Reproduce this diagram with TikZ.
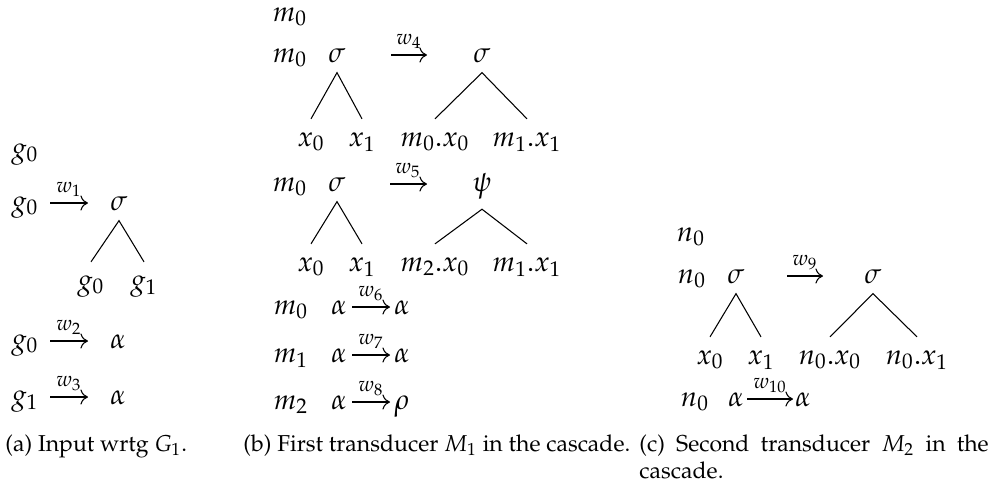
\documentclass[tikz,border=0pt]{standalone}
\usepackage[T1]{fontenc}
\usepackage{mathpazo}
\usetikzlibrary{arrows.meta}
\begin{document}
\begin{tikzpicture}[x=0.4237pt,y=-0.4237pt,
  every node/.style={inner sep=0pt,anchor=base,font=\fontsize{12}{14}\selectfont},
  rootnode/.style={inner ysep=4.2pt},
  leafnode/.style={inner ysep=5.5pt},
  treeline/.style={line width=0.45pt},
  arr/.style={line width=0.45pt,-{To[length=3.2pt,width=6.4pt]}},
  wlab/.style={yshift=-1pt},
  captxt/.style={font=\fontsize{9.75}{11.8}\selectfont,anchor=north west,align=justify}
]
\useasboundingbox (0,0) rectangle (994,490);

% ---------------- panel (a)
\node (ga) at (25,157) {$g_0$};
\node (ga1) at (25,210) {$g_0$};
\coordinate (a1s) at (50,203); \coordinate (a1e) at (88,203);
\draw[arr] (a1s) -- (a1e);
\node[wlab] (w1) at (69,190) {$\scriptstyle w_1$};
\node[rootnode] (sa) at (119,210) {$\sigma$};
\node[leafnode] (la0) at (91,289) {$g_0$};
\node[leafnode] (la1) at (144,289) {$g_1$};
\draw[treeline] (la0.north) -- (sa.south) -- (la1.north);

\node (ga2) at (25,348) {$g_0$};
\coordinate (a2s) at (50,341); \coordinate (a2e) at (88,341);
\draw[arr] (a2s) -- (a2e);
\node[wlab] (w2) at (69,328) {$\scriptstyle w_2$};
\node (al2) at (118,348) {$\alpha$};

\node (ga3) at (25,404) {$g_1$};
\coordinate (a3s) at (50,397); \coordinate (a3e) at (88,397);
\draw[arr] (a3s) -- (a3e);
\node[wlab] (w3) at (69,384) {$\scriptstyle w_3$};
\node (al3) at (118,404) {$\alpha$};

% ---------------- panel (b)
\node (mb) at (290,21) {$m_0$};
\node (mb1) at (290,62) {$m_0$};
\node[rootnode] (sb1) at (337,62) {$\sigma$};
\coordinate (b4s) at (391,55); \coordinate (b4e) at (427,55);
\draw[arr] (b4s) -- (b4e);
\node[wlab] (w4) at (409,42) {$\scriptstyle w_4$};
\node[rootnode] (sb1r) at (482,62) {$\sigma$};
\node[leafnode] (lb10) at (311,146) {$x_0$};
\node[leafnode] (lb11) at (362,146) {$x_1$};
\node[leafnode] (lb12) at (435,146) {$m_0.x_0$};
\node[leafnode] (lb13) at (527,146) {$m_1.x_1$};
\draw[treeline] (lb10.north) -- (sb1.south) -- (lb11.north);
\draw[treeline] (lb12.north) -- (sb1r.south) -- (lb13.north);

\node (mb2) at (290,191) {$m_0$};
\node[rootnode] (sb2) at (337,191) {$\sigma$};
\coordinate (b5s) at (390,184); \coordinate (b5e) at (427,184);
\draw[arr] (b5s) -- (b5e);
\node[wlab] (w5) at (408,171) {$\scriptstyle w_5$};
\node[rootnode] (psb) at (482,191) {$\psi$};
\node[leafnode] (lb20) at (311,271) {$x_0$};
\node[leafnode] (lb21) at (362,271) {$x_1$};
\node[leafnode] (lb22) at (435,271) {$m_2.x_0$};
\node[leafnode] (lb23) at (527,271) {$m_1.x_1$};
\draw[treeline] (lb20.north) -- (sb2.south) -- (lb21.north);
\draw[treeline] (lb22.north) -- (psb.south) -- (lb23.north);

\node (mb3) at (291,314) {$m_0$};
\node (ab3) at (339,314) {$\alpha$};
\coordinate (b6s) at (352,307); \coordinate (b6e) at (390,307);
\draw[arr] (b6s) -- (b6e);
\node[wlab] (w6) at (371,294) {$\scriptstyle w_6$};
\node (ab3r) at (402,314) {$\alpha$};

\node (mb4) at (291,362) {$m_1$};
\node (ab4) at (339,362) {$\alpha$};
\coordinate (b7s) at (352,355); \coordinate (b7e) at (390,355);
\draw[arr] (b7s) -- (b7e);
\node[wlab] (w7) at (371,342) {$\scriptstyle w_7$};
\node (ab4r) at (402,362) {$\alpha$};

\node (mb5) at (291,409) {$m_2$};
\node (ab5) at (339,409) {$\alpha$};
\coordinate (b8s) at (352,402); \coordinate (b8e) at (390,402);
\draw[arr] (b8s) -- (b8e);
\node[wlab] (w8) at (371,389) {$\scriptstyle w_8$};
\node (rb5) at (402,409) {$\rho$};

% ---------------- panel (c)
\node (nc) at (691,241) {$n_0$};
\node (nc1) at (692,283) {$n_0$};
\node[rootnode] (sc1) at (736,283) {$\sigma$};
\coordinate (c9s) at (787,276); \coordinate (c9e) at (823,276);
\draw[arr] (c9s) -- (c9e);
\node[wlab] (w9) at (805,263) {$\scriptstyle w_9$};
\node[rootnode] (sc1r) at (873,283) {$\sigma$};
\node[leafnode] (lc0) at (710,364) {$x_0$};
\node[leafnode] (lc1) at (761,364) {$x_1$};
\node[leafnode] (lc2) at (830,364) {$n_0.x_0$};
\node[leafnode] (lc3) at (917,364) {$n_0.x_1$};
\draw[treeline] (lc0.north) -- (sc1.south) -- (lc1.north);
\draw[treeline] (lc2.north) -- (sc1r.south) -- (lc3.north);

\node (nc2) at (695,406) {$n_0$};
\node (ac2) at (736,406) {$\alpha$};
\coordinate (c10s) at (747,399); \coordinate (c10e) at (793,399);
\draw[arr] (c10s) -- (c10e);
\node[wlab] (w10) at (770,386) {$\scriptstyle w_{10}$};
\node (ac2r) at (803,406) {$\alpha$};

% ---------------- captions
\node[captxt] (capa) at (5,434) {(a) Input wrtg $G_1$.};
\node[captxt] (capb) at (243,434) {(b) First transducer $M_1$ in the cascade.};
\node[captxt,text width=148pt] (capc) at (639,434) {(c) Second transducer $M_2$ in the cascade.};
\end{tikzpicture}
\end{document}
